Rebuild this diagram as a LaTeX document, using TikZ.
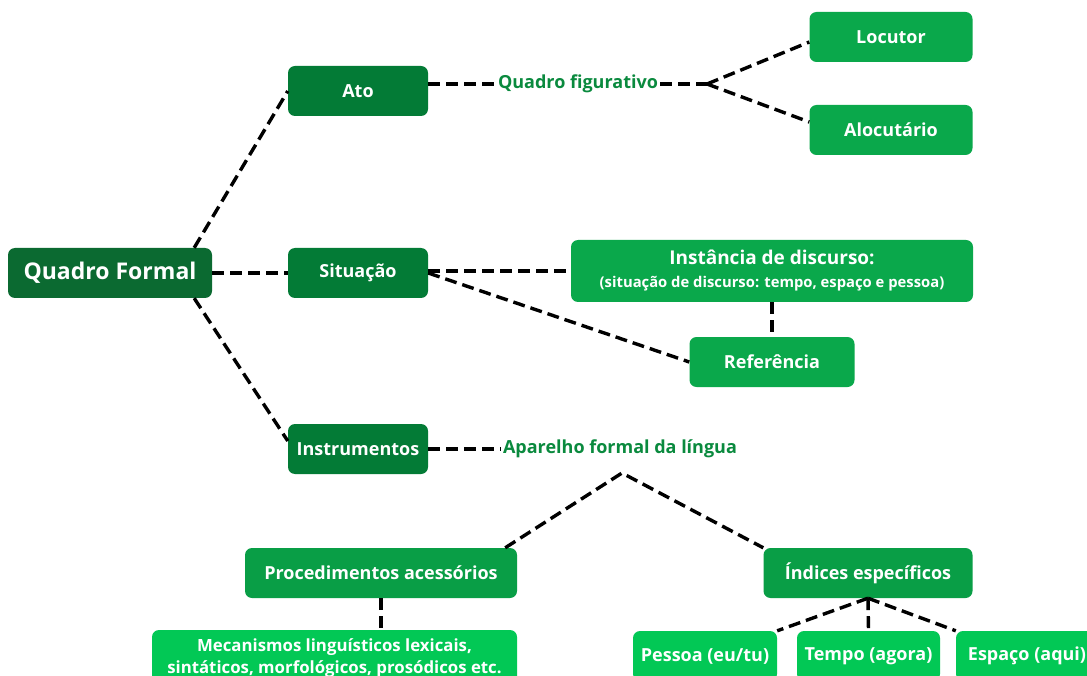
\documentclass[tikz,border=0pt]{standalone}
\usepackage{fontspec}
\setmainfont{Open Sans}
\usetikzlibrary{calc}
\definecolor{verdeescuro}{HTML}{0B6A31}
\definecolor{verde}{HTML}{037B36}
\definecolor{verdemedio}{HTML}{0AA84B}
\definecolor{verdeclaro}{HTML}{02C855}
\definecolor{verdetexto}{HTML}{0A8A3E}
\tikzset{
  caixa/.style={rounded corners=7pt, text=white, inner sep=0pt, align=center,
    font=\bfseries\fontsize{18}{22}\selectfont, minimum height=50pt},
  tracejado/.style={black, line width=3.4pt, dash pattern=on 12pt off 6pt},
  rotulo/.style={text=verdetexto, font=\bfseries\fontsize{18}{22}\selectfont, inner sep=2pt}
}

\begin{document}
\begin{tikzpicture}[x=1pt,y=-1pt]
  \clip (0,0) rectangle (1087,676);
  \fill[white] (0,0) rectangle (1087,676);

  % quadro formal e os tres ramos
\node[caixa, fill=verdeescuro, minimum width=204pt, font=\bfseries\fontsize{23}{27}\selectfont] (qf) at (110,273) {Quadro Formal};
\node[caixa, fill=verde, minimum width=140pt] (ato) at (358,91) {Ato};
\node[caixa, fill=verde, minimum width=140pt] (sit) at (358,273) {Situação};
\node[caixa, fill=verde, minimum width=140pt] (instr) at (358,449) {Instrumentos};

% ato
\node[rotulo] (figurativo) at (578,84) {Quadro figurativo};
\coordinate (jfig) at (707,84);
\node[caixa, fill=verdemedio, minimum width=163pt] (locutor) at (891,37) {Locutor};
\node[caixa, fill=verdemedio, minimum width=163pt] (alocutario) at (891,130) {Alocutário};

% situacao
\node[caixa, fill=verdemedio, minimum width=402pt, minimum height=62pt] (instancia) at (772,271)
  {\fontsize{19}{23}\selectfont Instância de discurso:\\[1pt]{\fontsize{14.8}{18}\selectfont(situação de discurso: tempo, espaço e pessoa)}};
\node[caixa, fill=verdemedio, minimum width=165pt] (referencia) at (772,362) {Referência};

% instrumentos
\node[rotulo] (aparelho) at (620,449) {Aparelho formal da língua};
\coordinate (japar) at (622,473);
\node[caixa, fill=verdemedio!94!black, minimum width=272pt] (proced) at (381,573) {Procedimentos acessórios};
\node[caixa, fill=verdemedio!94!black, minimum width=209pt] (indices) at (868,573) {Índices específicos};
\node[caixa, fill=verdeclaro, minimum width=365pt, minimum height=56pt, font=\bfseries\fontsize{16.8}{22}\selectfont] (mecanismos) at (334.5,658)
  {Mecanismos linguísticos lexicais,\\sintáticos, morfológicos, prosódicos etc.};
\node[caixa, fill=verdeclaro, minimum width=144pt] (pessoa) at (705,656) {Pessoa (eu/tu)};
\node[caixa, fill=verdeclaro, minimum width=143pt] (tempo) at (868.5,656) {Tempo (agora)};
\node[caixa, fill=verdeclaro, minimum width=142pt] (espaco) at (1027,656) {Espaço (aqui)};

  % ligacoes
  \draw[tracejado] ($(qf.north east)+(-18,0)$) -- (ato.west);
  \draw[tracejado] (qf.east) -- (sit.west);
  \draw[tracejado] ($(qf.south east)+(-18,0)$) -- ($(instr.west)+(0,-8)$);

  \draw[tracejado] (ato.east |- figurativo) -- (figurativo.west);
  \draw[tracejado] (figurativo.east) -- (jfig);
  \draw[tracejado] (jfig) -- ($(locutor.west)+(0,5)$);
  \draw[tracejado] (jfig) -- ($(alocutario.west)+(0,-8)$);

  \draw[tracejado] (sit.east |- instancia.west) -- (instancia.west);
  \draw[tracejado] (sit.east) -- (referencia.west);
  \draw[tracejado] (instancia.south) -- (referencia.north);

  \draw[tracejado] (instr.east) -- (aparelho.west);
  \draw[tracejado] ($(proced.north east)+(-12,0)$) -- (japar) -- (indices.north west);
  \draw[tracejado] (proced.south) -- (proced.south |- mecanismos.north);
  \draw[tracejado] (indices.south) -- (pessoa.north east);
  \draw[tracejado] (indices.south) -- (tempo.north);
  \draw[tracejado] (indices.south) -- (espaco.north west);
\end{tikzpicture}
\end{document}
